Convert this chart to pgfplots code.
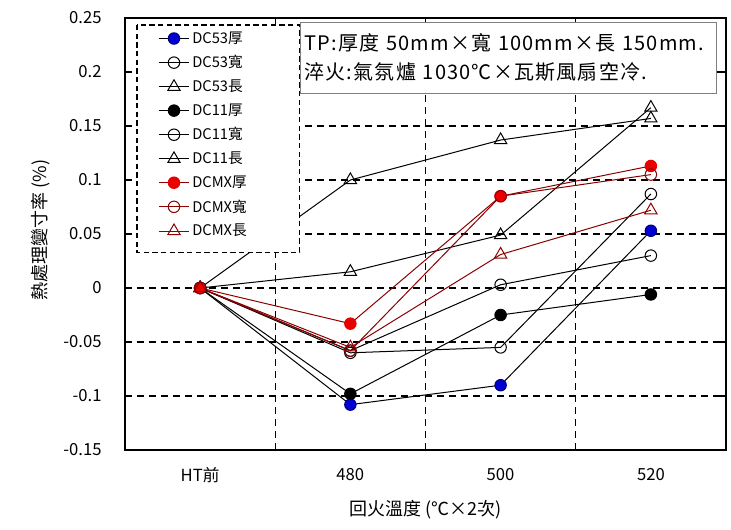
\documentclass[border=0pt]{standalone}
\usepackage{fontspec}
\setmainfont{Noto Sans CJK TC}
\newfontfamily\boxfont[LetterSpace=6]{Noto Sans CJK TC}
\usepackage{pgfplots}
\pgfplotsset{compat=1.18}
\definecolor{mx}{RGB}{140,0,0}
\definecolor{mxred}{RGB}{235,0,0}
\definecolor{dcblue}{RGB}{0,0,210}
\begin{document}
\begin{tikzpicture}
\begin{axis}[
  name=ax, scale only axis, width=450.75pt, height=324pt,
  xmin=-0.5, xmax=3.5, ymin=-0.15, ymax=0.25,
  font=\fontsize{12.5}{14}\selectfont,
  xtick={0.5,1.5,2.5}, xticklabels={}, xmajorgrids,
  extra x ticks={0,1,2,3}, extra x tick labels={HT前,480,500,520},
  extra x tick style={grid=none, major tick length=0pt},
  xticklabel style={anchor=center, yshift=-18.75pt},
  ytick={-0.15,-0.1,-0.05,0,0.05,0.1,0.15,0.2,0.25},
  yticklabels={-0.15,-0.1,-0.05,0,0.05,0.1,0.15,0.2,0.25},
  yticklabel style={anchor=east, xshift=-14pt},
  ymajorgrids,
  grid style={black, dash pattern=on 5.5pt off 3.5pt, line width=1.1pt},
  tick align=inside, major tick length=4.5pt,
  tick style={black, line width=0.9pt},
  axis line style={line width=0.9pt},
  xlabel={回火溫度 (℃×2次)},
  xlabel style={at={(rel axis cs:0.5,-0.139)}, anchor=center, font=\fontsize{13.5}{15}\selectfont},
  ylabel={熱處理變寸率 (\%)},
  ylabel style={at={(rel axis cs:-0.14,0.509)}, anchor=center, font=\fontsize{13.5}{15}\selectfont},
  legend cell align=left,
  legend style={at={(rel axis cs:0.055,0.975)}, anchor=north west, draw=none, fill=none,
    font=\fontsize{11}{12}\selectfont, row sep=3.6pt, inner sep=0pt},
  legend image code/.code={\draw[mark repeat=2,mark phase=2] plot coordinates {(0cm,0cm)(0.4cm,0cm)(0.8cm,0cm)};},
  every axis plot/.append style={solid, line width=0.75pt, mark size=4.3pt, mark options={solid, line width=0.75pt}},
]
\addplot[black, mark=*, mark options={fill=dcblue, draw=dcblue!60!black}] coordinates {(0,0) (1,-0.108) (2,-0.090) (3,0.053)};
\addlegendentry{DC53厚}
\addplot[black, mark=o, mark options={fill=white, draw=black}] coordinates {(0,0) (1,-0.060) (2,-0.055) (3,0.087)};
\addlegendentry{DC53寬}
\addplot[black, mark=triangle, mark options={fill=white, draw=black}, mark size=5.3pt] coordinates {(0,0) (1,0.015) (2,0.049) (3,0.167)};
\addlegendentry{DC53長}
\addplot[black, mark=*, mark options={fill=black, draw=black}] coordinates {(0,0) (1,-0.098) (2,-0.025) (3,-0.006)};
\addlegendentry{DC11厚}
\addplot[black, mark=o, mark options={fill=white, draw=black}] coordinates {(0,0) (1,-0.058) (2,0.003) (3,0.030)};
\addlegendentry{DC11寬}
\addplot[black, mark=triangle, mark options={fill=white, draw=black}, mark size=5.3pt] coordinates {(0,0) (1,0.100) (2,0.137) (3,0.157)};
\addlegendentry{DC11長}
\addplot[mx, mark=*, mark options={fill=mxred, draw=mxred}] coordinates {(0,0) (1,-0.033) (2,0.085) (3,0.113)};
\addlegendentry{DCMX厚}
\addplot[mx, mark=o, mark options={fill=white, draw=mx}] coordinates {(0,0) (1,-0.058) (2,0.085) (3,0.105)};
\addlegendentry{DCMX寬}
\addplot[mx, mark=triangle, mark options={fill=white, draw=mx}, mark size=5.3pt] coordinates {(0,0) (1,-0.055) (2,0.031) (3,0.072)};
\addlegendentry{DCMX長}
\draw[black, line width=0.9pt, dash pattern=on 4pt off 2.5pt, fill=white] (rel axis cs:0.02,0.984) rectangle (rel axis cs:0.291,0.458);
\node[draw=gray, line width=0.9pt, fill=white, anchor=north west, text width=306pt, minimum height=53pt, align=left, inner xsep=3pt,
  font=\boxfont\fontsize{15}{21.75}\selectfont] at (rel axis cs:0.291,0.991)
  {TP:厚度 50mm×寬 100mm×長 150mm.\\淬火:氣氛爐 1030℃×瓦斯風扇空冷.};
\node[anchor=center, font=\fontsize{12.5}{14}\selectfont] at (rel axis cs:-0.2,-0.139) {0};
\end{axis}
\pgfresetboundingbox
\path ([xshift=-93.75pt, yshift=-59.25pt]ax.south west) rectangle ([xshift=3.75pt, yshift=13.5pt]ax.north east);
\end{tikzpicture}
\end{document}
